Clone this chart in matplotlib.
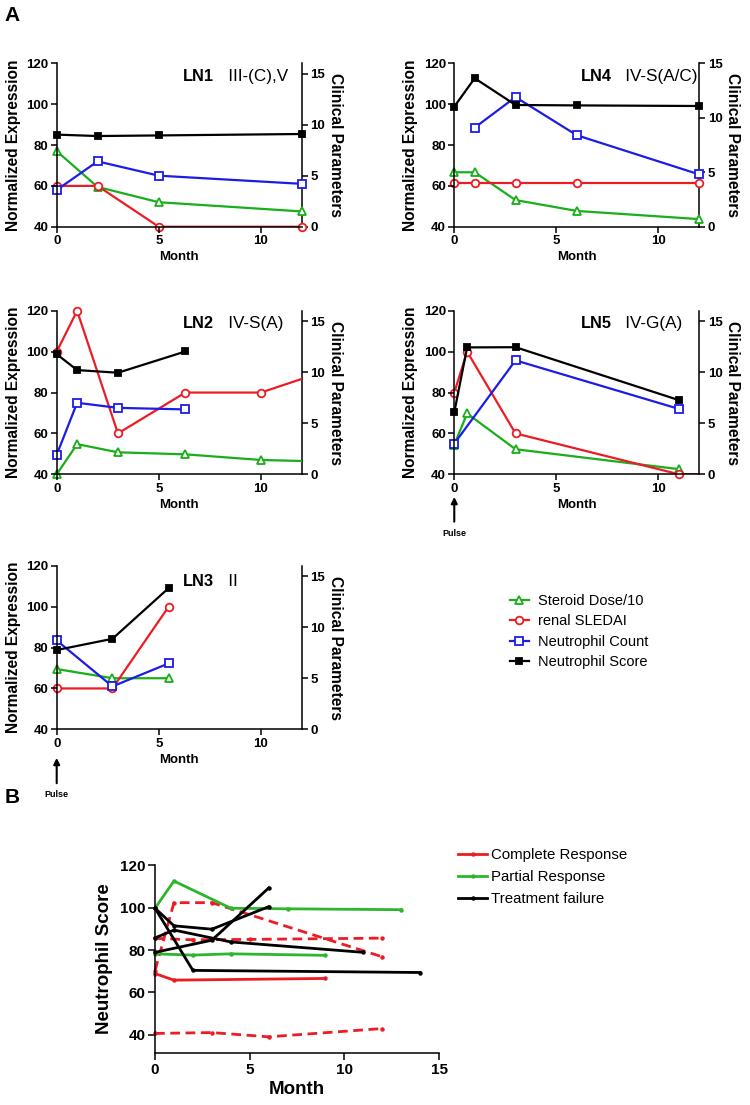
import numpy as np
import matplotlib.pyplot as plt
from matplotlib.lines import Line2D

plt.rcParams['font.family'] = ['Liberation Sans', 'DejaVu Sans']
plt.rcParams['axes.linewidth'] = 1.1

GREEN = '#1aae1a'
RED = '#ec1c24'
BLUE = '#1c1ce6'
BLACK = '#000000'

# ---- panel A data (clinical series on right axis, score on left axis) ----
ln1_month = [0, 2, 5, 12]
ln1_steroid = [7.4, 3.9, 2.4, 1.5]
ln1_sledai = [4, 4, 0, 0]
ln1_count = [3.6, 6.4, 5.0, 4.2]
ln1_score = [85.1, 84.4, 84.7, 85.4]

ln4_month = [0, 1, 3, 6, 12]
ln4_steroid = [5.0, 5.0, 2.45, 1.45, 0.7]
ln4_sledai = [4, 4, 4, 4, 4]
ln4_count_month = [1, 3, 6, 12]
ln4_count = [9.1, 11.9, 8.4, 4.8]
ln4_score = [98.8, 112.7, 99.6, 99.4, 99.1]

ln2_month = [0, 1, 3, 6.3]
ln2_long_month = [0, 1, 3, 6.3, 10, 16]
ln2_steroid = [0, 2.95, 2.15, 1.95, 1.4, 1.1]
ln2_sledai = [12, 16, 4, 8, 8, 12]
ln2_count = [1.9, 7.0, 6.5, 6.35]
ln2_score = [98.8, 91.0, 89.7, 100.1]

ln5_month = [0, 0.63, 3, 11]
ln5_sledai_month = [0, 0.63, 3, 11, 14]
ln5_steroid = [2.9, 5.95, 2.45, 0.5]
ln5_sledai = [8, 12, 4, 0, 0]
ln5_count_month = [0, 3, 11]
ln5_count = [3.0, 11.15, 6.4]
ln5_score = [70.3, 102.1, 102.2, 76.3]

ln3_month = [0, 2.73, 5.48]
ln3_steroid = [5.9, 5.0, 5.0]
ln3_sledai = [4, 4, 12]
ln3_count = [8.7, 4.2, 6.45]
ln3_score = [78.8, 84.3, 109.1]

legend_a = ['Steroid Dose/10', 'renal SLEDAI', 'Neutrophil Count', 'Neutrophil Score']

# ---- panel B data ----
cr1_month = [0, 1, 3, 12]
cr1 = [70.3, 102.3, 102.3, 76.8]
cr2_month = [0, 2, 5, 12]
cr2 = [85.5, 84.8, 85.0, 85.6]
cr3_month = [0, 3, 6, 12]
cr3 = [40.7, 41.1, 39.1, 43.0]
cr4_month = [0, 1, 9]
cr4 = [68.9, 65.8, 66.6]

pr1_month = [0, 1, 4, 7, 13]
pr1 = [99.7, 112.5, 99.7, 99.4, 99.0]
pr2_month = [0, 2, 4, 9]
pr2 = [78.2, 77.6, 78.2, 77.5]

tf1_month = [0, 1, 3, 6]
tf1 = [99.7, 91.4, 89.8, 100.4]
tf2_month = [0, 2, 14]
tf2 = [99.7, 70.4, 69.4]
tf3_month = [0, 1, 4, 11]
tf3 = [85.7, 89.4, 83.8, 78.9]
tf4_month = [0, 3, 6]
tf4 = [78.9, 84.6, 109.2]

legend_b = ['Complete Response', 'Partial Response', 'Treatment failure']

fig = plt.figure(figsize=(7.5, 11.05), dpi=100)

XMAX = 12


def bold_ticks(a):
    for lbl in a.get_xticklabels() + a.get_yticklabels():
        lbl.set_fontweight('bold')


def draw(ax, x, y, color, marker, filled):
    x = np.array(x, dtype=float)
    y = np.array(y, dtype=float)
    ax.plot(x, y, color=color, lw=1.6, zorder=3)
    inside = x <= XMAX
    ax.plot(x[inside], y[inside], ls='none', marker=marker, ms=5.5 if not filled else 5,
            mfc=color if filled else 'white', mec=color, mew=1.3, clip_on=False, zorder=4)


def panel(rect, name, sub, right_top, series, score_month, score, label_y):
    ax = fig.add_axes(rect)
    ax2 = ax.twinx()
    ax.set_xlim(0, XMAX)
    ax.set_ylim(40, 120)
    ax2.set_ylim(0, right_top)
    ax.set_xticks([0, 5, 10])
    ax.set_yticks([40, 60, 80, 100, 120])
    ax2.set_yticks([0, 5, 10, 15])
    for a in (ax, ax2):
        a.spines['top'].set_visible(False)
        a.tick_params(direction='out', length=4, width=1.1, labelsize=9.5, pad=2)
        bold_ticks(a)
    ax.spines['right'].set_visible(False)
    ax2.spines['left'].set_visible(False)
    ax2.spines['bottom'].set_visible(False)
    ax.set_xlabel('Month', fontsize=9.5, labelpad=3, fontweight='bold')
    ax.set_ylabel('Normalized Expression', fontsize=11.2, labelpad=4, fontweight='bold')
    ax2.set_ylabel('Clinical Parameters', fontsize=11.2, rotation=270, labelpad=13,
                   fontweight='bold')

    for x, y, c, m in series:
        draw(ax2, x, y, c, m, False)
    draw(ax, score_month, score, BLACK, 's', True)
    ax.set_zorder(ax2.get_zorder() + 1)
    ax.patch.set_visible(False)

    t1 = ax.text(0.515, label_y, name, transform=ax.transAxes, fontsize=11.8,
                 weight='bold', va='center', ha='left')
    ax.annotate('   ' + sub, xy=(1, 0), xycoords=t1, va='bottom', ha='left',
                fontsize=12.3, weight='normal')
    return ax


def pulse(ax, tip, text_y):
    ax.annotate('Pulse', xy=(0, tip), xycoords=('data', 'axes fraction'),
                xytext=(0, text_y), textcoords=('data', 'axes fraction'),
                ha='center', va='center', fontsize=6.5, weight='bold',
                arrowprops=dict(arrowstyle='-|>', color='k', lw=1.5,
                                mutation_scale=9, shrinkA=3, shrinkB=0),
                annotation_clip=False)


W, H = 0.3267, 0.1479
panel([0.0756, 0.7948, W, H], 'LN1', 'III-(C),V', 16,
      [(ln1_month, ln1_steroid, GREEN, '^'), (ln1_month, ln1_sledai, RED, 'o'),
       (ln1_month, ln1_count, BLUE, 's')], ln1_month, ln1_score, 0.918)
ax4 = panel([0.6057, 0.7948, W, H], 'LN4', 'IV-S(A/C)', 15,
            [(ln4_month, ln4_steroid, GREEN, '^'), (ln4_month, ln4_sledai, RED, 'o'),
             (ln4_count_month, ln4_count, BLUE, 's')], ln4_month, ln4_score, 0.918)
panel([0.0756, 0.5708, W, H], 'LN2', 'IV-S(A)', 16,
      [(ln2_long_month, ln2_steroid, GREEN, '^'), (ln2_long_month, ln2_sledai, RED, 'o'),
       (ln2_month, ln2_count, BLUE, 's')], ln2_month, ln2_score, 0.923)
ax5 = panel([0.6057, 0.5708, W, H], 'LN5', 'IV-G(A)', 16,
            [(ln5_month, ln5_steroid, GREEN, '^'), (ln5_sledai_month, ln5_sledai, RED, 'o'),
             (ln5_count_month, ln5_count, BLUE, 's')], ln5_month, ln5_score, 0.923)
ax3 = panel([0.0756, 0.3400, W, H], 'LN3', 'II', 16,
            [(ln3_month, ln3_steroid, GREEN, '^'), (ln3_month, ln3_sledai, RED, 'o'),
             (ln3_month, ln3_count, BLUE, 's')], ln3_month, ln3_score, 0.902)
pulse(ax5, -0.139, -0.36)
pulse(ax3, -0.175, -0.40)

handles_a = [Line2D([], [], color=c, marker=m, ms=5.5 if not f else 5, mfc=c if f else 'white',
                    mec=c, mew=1.3, lw=1.6)
             for c, m, f in [(GREEN, '^', False), (RED, 'o', False), (BLUE, 's', False), (BLACK, 's', True)]]
fig.legend(handles_a, legend_a, loc='center left', bbox_to_anchor=(0.68, 0.4285),
           frameon=False, prop={'size': 10.5, 'weight': 'normal'}, handlelength=1.3,
           handletextpad=0.6, labelspacing=0.44, borderpad=0, borderaxespad=0)

# ---- panel B ----
axb = fig.add_axes([0.2067, 0.0471, 0.3787, 0.170])
GREEN_B = '#2db52d'
lines_b = [
    (cr1_month, cr1, RED, (0, (3.5, 2))),
    (cr2_month, cr2, RED, (0, (3.5, 2))),
    (cr3_month, cr3, RED, (0, (3.5, 2))),
    (cr4_month, cr4, RED, '-'),
    (pr1_month, pr1, GREEN_B, '-'),
    (pr2_month, pr2, GREEN_B, '-'),
    (tf1_month, tf1, BLACK, '-'),
    (tf2_month, tf2, BLACK, '-'),
    (tf3_month, tf3, BLACK, '-'),
    (tf4_month, tf4, BLACK, '-'),
]
for x, y, c, ls in lines_b:
    axb.plot(x, y, color=c, ls=ls, lw=2, marker='o', ms=2.2, clip_on=False)
axb.set_xlim(0, 15)
axb.set_ylim(31.5, 120)
axb.set_xticks([0, 5, 10, 15])
axb.set_yticks([40, 60, 80, 100, 120])
axb.spines['top'].set_visible(False)
axb.spines['right'].set_visible(False)
axb.tick_params(direction='out', length=5, width=1.1, labelsize=11, pad=2)
bold_ticks(axb)
axb.set_xlabel('Month', fontsize=13.5, labelpad=3, fontweight='bold')
axb.set_ylabel('Neutrophil Score', fontsize=13.5, labelpad=5, fontweight='bold')

handles_b = [Line2D([], [], color=c, lw=2, marker='o', ms=2.2) for c in (RED, GREEN_B, BLACK)]
fig.legend(handles_b, legend_b, loc='center left', bbox_to_anchor=(0.611, 0.2063),
           frameon=False, prop={'size': 10.8, 'weight': 'normal'}, handlelength=1.9,
           handletextpad=0.3, labelspacing=0.55, borderpad=0, borderaxespad=0)

fig.text(0.006, 0.986, 'A', fontsize=15, weight='bold', va='center')
fig.text(0.006, 0.278, 'B', fontsize=15, weight='bold', va='center')

fig.savefig('out.png', dpi=100)
